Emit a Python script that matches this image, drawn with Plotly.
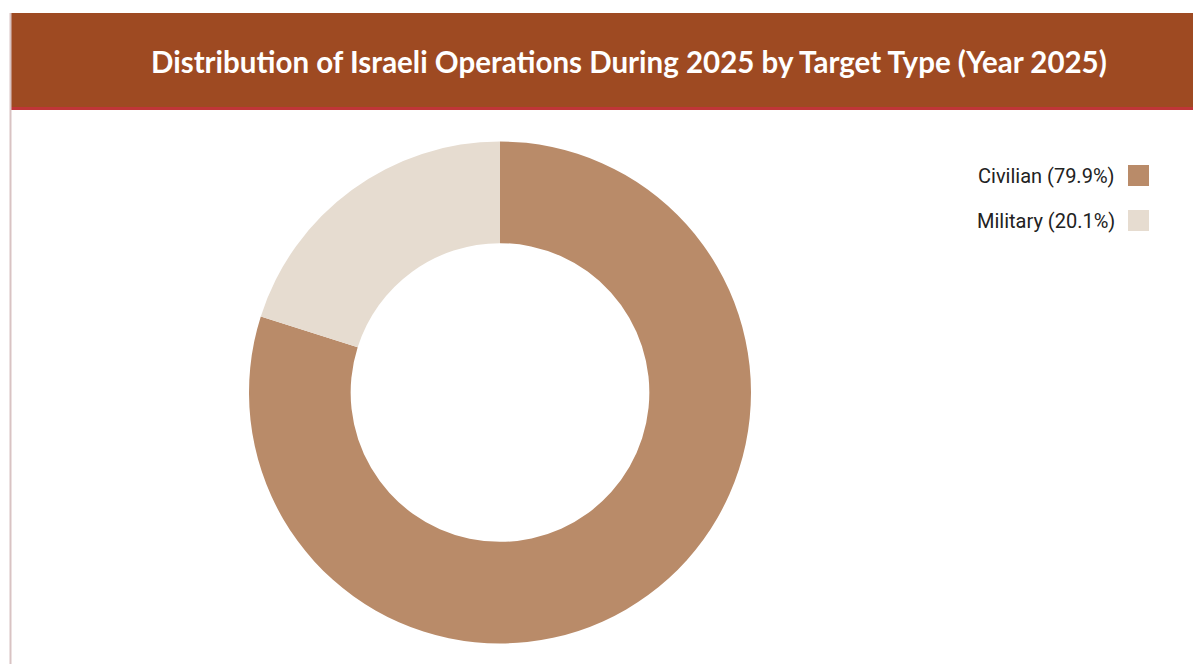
import plotly.graph_objects as go

# Share of operations by target type, 2025 (percent)
categories = ["Civilian", "Military"]
shares = [79.9, 20.1]
colors = ["#b98b69", "#e6dcd0"]

title_text = "Distribution of Israeli Operations During 2025 by Target Type (Year 2025)"

W, H = 1193, 664


def px_x(x):
    return x / W


def px_y(y):
    return 1 - y / H


fig = go.Figure()

fig.add_trace(go.Pie(
    labels=categories,
    values=shares,
    hole=0.595,
    sort=False,
    direction="clockwise",
    rotation=0,
    marker=dict(colors=colors, line=dict(width=0)),
    textinfo="none",
    hoverinfo="label+percent",
    showlegend=False,
    domain=dict(x=[px_x(249), px_x(751)], y=[px_y(644), px_y(141)]),
))

shapes = [
    # card left border
    dict(type="line", xref="paper", yref="paper",
         x0=px_x(10.5), x1=px_x(10.5), y0=0, y1=px_y(13),
         line=dict(color="#d9c3c3", width=2)),
    # header band
    dict(type="rect", xref="paper", yref="paper",
         x0=px_x(10), x1=1, y0=px_y(107), y1=px_y(13),
         fillcolor="#9e4a22", line=dict(width=0), layer="below"),
    # accent line under header
    dict(type="rect", xref="paper", yref="paper",
         x0=px_x(10), x1=1, y0=px_y(110), y1=px_y(107),
         fillcolor="#c03538", line=dict(width=0), layer="below"),
]

annotations = [
    dict(text=title_text, xref="paper", yref="paper",
         x=px_x(629), y=px_y(61), xanchor="center", yanchor="middle",
         showarrow=False,
         font=dict(family="Lato", size=29.5, color="#ffffff", weight="bold")),
]

# Custom legend: label on the left, swatch on the right
legend_top = 165
row_gap = 45
for i, (cat, val, col) in enumerate(zip(categories, shares, colors)):
    y0 = legend_top + i * row_gap
    shapes.append(dict(type="rect", xref="paper", yref="paper",
                       x0=px_x(1128), x1=px_x(1149),
                       y0=px_y(y0 + 21), y1=px_y(y0),
                       fillcolor=col, line=dict(width=0)))
    annotations.append(dict(text=f"{cat} ({val:.1f}%)", xref="paper", yref="paper",
                            x=px_x(1117), y=px_y(y0 + 10.5),
                            xanchor="right", yanchor="middle", showarrow=False,
                            font=dict(family="Roboto", size=20, color="#222222")))

fig.update_layout(
    width=W, height=H,
    margin=dict(l=0, r=0, t=0, b=0),
    paper_bgcolor="#ffffff",
    plot_bgcolor="#ffffff",
    shapes=shapes,
    annotations=annotations,
)

fig.write_html("out.html", config={"displayModeBar": False})
